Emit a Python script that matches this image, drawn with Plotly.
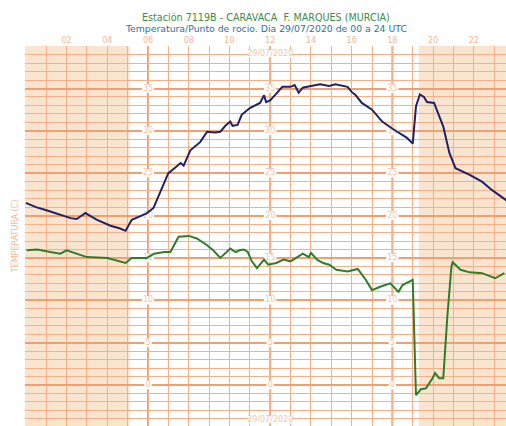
import plotly.graph_objects as go

# Temperature (navy) - hour of day, degrees C
temp_hours = [0, 0.5, 1.05, 1.6, 2.2, 2.5, 2.93, 3.2, 3.5, 4.16, 4.6, 4.9, 5.2, 5.6, 5.95, 6.27, 6.6, 7.0,
              7.3, 7.6, 7.75, 8.08, 8.57, 8.9, 9.3, 9.55, 9.8, 10.04, 10.15, 10.4, 10.6, 11.0, 11.5, 11.7,
              11.8, 12.0, 12.3, 12.6, 13.0, 13.2, 13.4, 13.6, 14.0, 14.45, 14.9, 15.2, 15.8, 16.0, 16.2,
              16.5, 17.0, 17.5, 18.1, 18.7, 19.0, 19.16, 19.35, 19.55, 19.7, 20.05, 20.5, 20.8, 21.1,
              21.8, 22.4, 22.9, 23.6]
temp_values = [21.5, 21.0, 20.6, 20.2, 19.7, 19.6, 20.3, 19.9, 19.5, 18.8, 18.5, 18.2, 19.5, 19.9, 20.3,
               20.9, 22.7, 25.0, 25.6, 26.2, 25.9, 27.7, 28.7, 29.9, 29.8, 29.9, 30.6, 31.1, 30.6, 30.7,
               31.9, 32.7, 33.3, 34.2, 33.4, 33.6, 34.4, 35.2, 35.2, 35.4, 34.5, 35.1, 35.3, 35.5, 35.3,
               35.5, 35.2, 34.6, 34.2, 33.3, 32.5, 31.1, 30.1, 29.2, 28.5, 32.9, 34.3, 34.0, 33.4, 33.3,
               30.5, 27.4, 25.6, 24.8, 24.0, 23.0, 21.8]

# Dew point (green)
dew_hours = [0.04, 0.57, 1.2, 1.7, 2.0, 2.5, 3.0, 4.0, 4.5, 4.9, 5.2, 5.95, 6.3, 6.8, 7.1, 7.5, 8.0, 8.4,
             8.9, 9.2, 9.55, 10.04, 10.3, 10.5, 10.7, 10.9, 11.1, 11.35, 11.7, 11.9, 12.3, 12.65, 13.0,
             13.6, 13.9, 14.0, 14.3, 14.6, 14.9, 15.25, 15.8, 16.3, 16.7, 17.0, 17.4, 17.7, 17.9, 18.3,
             18.5, 19.0, 19.16, 19.4, 19.65, 19.97, 20.1, 20.3, 20.5, 20.7, 20.9, 20.96, 21.35, 21.8,
             22.4, 23.05, 23.5]
dew_values = [15.9, 16.0, 15.7, 15.5, 15.9, 15.5, 15.1, 15.0, 14.7, 14.4, 15.0, 15.0, 15.5, 15.7, 15.7,
              17.5, 17.6, 17.3, 16.5, 15.9, 15.0, 16.1, 15.7, 15.9, 16.0, 15.7, 14.6, 13.8, 14.8, 14.2,
              14.4, 14.8, 14.6, 15.5, 15.1, 15.6, 14.8, 14.4, 14.2, 13.6, 13.4, 13.7, 12.4, 11.2, 11.6,
              11.8, 12.0, 11.0, 11.8, 12.4, -1.2, -0.5, -0.4, 0.8, 1.4, 0.8, 0.8, 8.1, 14.0, 14.5, 13.6,
              13.3, 13.2, 12.6, 13.2]

hour_ticks = list(range(0, 24))
hour_labels = ["", "", "02", "", "04", "", "06", "", "08", "", "10", "", "12", "",
               "14", "", "16", "", "18", "", "20", "", "22", ""]
y_label_values = [0, 5, 10, 15, 20, 25, 30, 35]
y_label_hours = [6, 12, 18]
night_periods = [(-0.5, 5.1), (19.3, 24.5)]
date_label = "29/07/2020"
date_label_y = [39.1, -4.1]
title_line1 = "Estación 7119B - CARAVACA  F. MARQUES (MURCIA)"
title_line2 = "Temperatura/Punto de rocio. Dia 29/07/2020 de 00 a 24 UTC"

LABEL_COL = "#f1b896"
GRID_COL = "#f4b088"
FONT = "DejaVu Sans"

fig = go.Figure()

shapes = []
for x0, x1 in night_periods:
    shapes.append(dict(type="rect", xref="x", yref="y", x0=x0, x1=x1, y0=-10, y1=45,
                       fillcolor="#f9e4cf", line=dict(width=0), layer="below"))
for h in y_label_hours:
    shapes.append(dict(type="line", xref="x", yref="y", x0=h, x1=h, y0=-10, y1=45,
                       line=dict(color="#f0a070", width=2), layer="below"))
# white boxes behind the in-plot value labels (above grid, below data)
for h in y_label_hours:
    for v in y_label_values:
        half_w = 0.18 if v < 10 else 0.3
        shapes.append(dict(type="rect", xref="x", yref="y", x0=h - half_w, x1=h + half_w,
                           y0=v - 0.5, y1=v + 0.5, fillcolor="white", line=dict(width=0),
                           layer="between"))
for yv in date_label_y:
    shapes.append(dict(type="rect", xref="x", yref="y", x0=12 - 1.05, x1=12 + 1.05,
                       y0=yv - 0.42, y1=yv + 0.42, fillcolor="white", line=dict(width=0),
                       layer="between"))
fig.update_layout(shapes=shapes)

# in-plot value labels as a text trace (drawn under the data lines)
lab_x, lab_y, lab_t = [], [], []
for h in y_label_hours:
    for v in y_label_values:
        lab_x.append(h)
        lab_y.append(v)
        lab_t.append(str(v))
for yv in date_label_y:
    lab_x.append(12)
    lab_y.append(yv)
    lab_t.append(date_label)
fig.add_trace(go.Scatter(x=lab_x, y=lab_y, text=lab_t, mode="text", hoverinfo="skip",
                         textfont=dict(size=8, color="#f2c6a6", family=FONT), showlegend=False))

fig.add_trace(go.Scatter(x=dew_hours, y=dew_values, mode="lines",
                         line=dict(color="#2f7d2a", width=2), showlegend=False))
fig.add_trace(go.Scatter(x=temp_hours, y=temp_values, mode="lines",
                         line=dict(color="#1f2266", width=2), showlegend=False))

fig.update_layout(annotations=[
    dict(x=0.5, y=(426 - 17) / 380, xref="paper", yref="paper", text=title_line1, showarrow=False,
         xanchor="center", yanchor="middle", font=dict(size=9.6, color="#3f8a4a", family=FONT)),
    dict(x=0.5, y=(426 - 29) / 380, xref="paper", yref="paper", text=title_line2, showarrow=False,
         xanchor="center", yanchor="middle", font=dict(size=9.3, color="#2f6fa0", family=FONT)),
])

fig.update_layout(
    width=506, height=426,
    margin=dict(l=25, r=0, t=46, b=0),
    paper_bgcolor="white", plot_bgcolor="white",
    xaxis=dict(range=[-0.04, 23.58], side="top", tickvals=hour_ticks, ticktext=hour_labels,
               showgrid=True, gridcolor=GRID_COL, gridwidth=1, zeroline=False, automargin=False,
               tickfont=dict(size=8, color=LABEL_COL, family=FONT),
               ticks="", showline=False, fixedrange=True),
    yaxis=dict(range=[-4.84, 40.02], dtick=5, tick0=0, showticklabels=False, automargin=False,
               showgrid=True, gridcolor="#f0a070", gridwidth=1.6, zeroline=False,
               minor=dict(dtick=1, tick0=0, showgrid=True, gridcolor=GRID_COL, gridwidth=1),
               title=dict(text="TEMPERATURA (C)", standoff=4,
                          font=dict(size=8, color=LABEL_COL, family=FONT)),
               showline=False, fixedrange=True),
)

fig.write_html("out.html", config={"displayModeBar": False},
               post_script="document.body.style.margin='0px';document.body.style.overflow='hidden';")
